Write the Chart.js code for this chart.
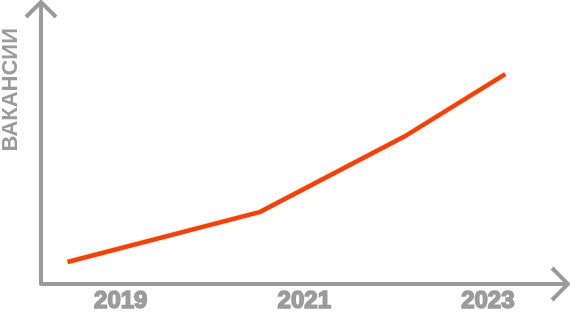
<!DOCTYPE html>
<html>
<head>
<meta charset="utf-8">
<script src="https://cdn.jsdelivr.net/npm/chart.js@4"></script>
<style>
  html, body { margin: 0; padding: 0; background: #fff; }
</style>
</head>
<body>
<canvas id="vacancyChart" width="570" height="316"></canvas>
<script>
// données
const years = [2018.42, 2020.52, 2022.09, 2023.19];
const vacancies = [8.6, 28.2, 57.6, 82.0];
const tickYears = [2019, 2021, 2023];
const yTitle = 'ВАКАНСИИ';

const gray = '#9b9b9b';
const orange = '#ff3d00';

// axes avec flèches dessinés à la main
const arrowAxes = {
    id: 'arrowAxes',
    beforeDatasetsDraw(chart) {
        const { ctx, chartArea } = chart;
        const x0 = chartArea.left + 1;
        const y0 = chartArea.bottom;
        const topY = 2;
        const rightX = 568;
        ctx.save();
        ctx.strokeStyle = gray;
        ctx.lineWidth = 4;
        ctx.lineJoin = 'round';
        ctx.beginPath();
        ctx.moveTo(x0, topY + 1);
        ctx.lineTo(x0, y0);
        ctx.lineTo(rightX - 1, y0);
        ctx.stroke();
        ctx.lineJoin = 'miter';
        ctx.beginPath();
        ctx.moveTo(x0 - 15, topY + 15);
        ctx.lineTo(x0, topY);
        ctx.lineTo(x0 + 15, topY + 15);
        ctx.moveTo(rightX - 16, y0 - 16);
        ctx.lineTo(rightX, y0);
        ctx.lineTo(rightX - 16, y0 + 16);
        ctx.stroke();
        ctx.restore();
    }
};

const ctx = document.getElementById('vacancyChart').getContext('2d');
new Chart(ctx, {
    type: 'line',
    data: {
        datasets: [{
            label: yTitle,
            data: years.map((x, i) => ({ x: x, y: vacancies[i] })),
            borderColor: orange,
            borderWidth: 4.5,
            pointRadius: 0,
            tension: 0,
            fill: false
        }]
    },
    options: {
        responsive: false,
        animation: false,
        layout: {
            padding: { left: 0, top: 28, right: 6, bottom: -2 }
        },
        plugins: {
            legend: { display: false },
            tooltip: { enabled: false }
        },
        scales: {
            x: {
                type: 'linear',
                min: 2018.12,
                max: 2023.83,
                grid: { display: false, drawTicks: false },
                border: { display: false },
                afterBuildTicks: axis => {
                    axis.ticks = tickYears.map(v => ({ value: v }));
                },
                ticks: {
                    padding: 5,
                    color: gray,
                    textStrokeColor: gray,
                    textStrokeWidth: 1.6,
                    maxRotation: 0,
                    autoSkip: false,
                    font: { family: 'Liberation Sans', size: 24, weight: 'bold', lineHeight: 1 },
                    callback: v => String(v)
                }
            },
            y: {
                min: 0,
                max: 100,
                grid: { display: false, drawTicks: false },
                border: { display: false },
                ticks: { display: false },
                title: {
                    display: true,
                    text: yTitle,
                    align: 'end',
                    color: gray,
                    padding: { top: 0, bottom: 18 },
                    font: { family: 'Liberation Sans', size: 22, weight: 'bold', lineHeight: 1 }
                }
            }
        }
    },
    plugins: [arrowAxes]
});
</script>
</body>
</html>
